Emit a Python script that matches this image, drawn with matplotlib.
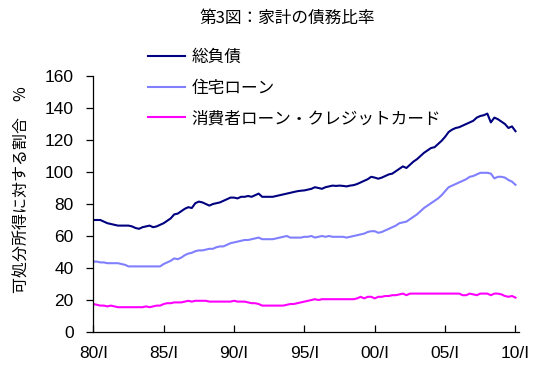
import matplotlib
matplotlib.use("Agg")
import matplotlib.pyplot as plt
from matplotlib.font_manager import FontProperties
import numpy as np

plt.rcParams['font.family'] = ['Noto Sans CJK JP', 'DejaVu Sans']

title = "第3図：家計の債務比率"
ylabel = "可処分所得に対する割合　%"
labels = ["総負債", "住宅ローン", "消費者ローン・クレジットカード"]
xtick_labels = ["80/I", "85/I", "90/I", "95/I", "00/I", "05/I", "10/I"]
yticks = [0, 20, 40, 60, 80, 100, 120, 140, 160]

# quarterly values, 1980Q1 .. 2010Q1
total_debt = [
    70, 70, 70, 69, 68,
    67.5, 67, 66.5, 66.5, 66.5,
    66.5, 66, 65, 64.5, 65.5,
    66, 66.5, 65.5, 66, 67,
    68, 69.5, 71, 73.5, 74,
    75.5, 77, 78, 77.5, 80.5,
    81.5, 81, 80, 79, 80,
    80.5, 81, 82, 83, 84,
    84, 83.5, 84.5, 84.5, 85,
    84.5, 85.5, 86.5, 84.5, 84.5,
    84.5, 84.5, 85, 85.5, 86,
    86.5, 87, 87.5, 88, 88.3,
    88.5, 89, 89.5, 90.5, 90,
    89.5, 90.5, 91, 91.5, 91.3,
    91.5, 91.3, 91, 91.5, 91.8,
    92.5, 93.5, 94.5, 95.5, 97,
    96.5, 95.8, 96.5, 97.5, 98.5,
    99, 100.5, 102, 103.5, 102.5,
    104.5, 106.5, 108, 110, 112,
    113.5, 115, 115.5, 117.5, 119.5,
    122, 125, 126.5, 127.5, 128,
    129, 130, 131, 132, 134,
    135, 135.5, 136.5, 131, 134,
    133, 131.5, 130, 127.5, 128.5,
    125.5,
]
mortgage = [
    44, 44, 43.5, 43.5, 43,
    43, 43, 43, 42.5, 42,
    41, 41, 41, 41, 41,
    41, 41, 41, 41, 41,
    42.5, 43.5, 44.5, 46, 45.5,
    46.5, 48, 49, 49.5, 50.5,
    51, 51, 51.5, 52, 52,
    53, 53.5, 53.5, 54.5, 55.5,
    56, 56.5, 57, 57.5, 57.5,
    58, 58.5, 59, 58, 58,
    58, 58, 58.5, 59, 59.5,
    60, 59, 59, 59, 59,
    59.5, 59.5, 60, 59, 59.5,
    60, 59.5, 60, 59.5, 59.5,
    59.5, 59.5, 59, 59.5, 60,
    60.5, 61, 61.5, 62.5, 63,
    63, 62, 62.5, 63.5, 64.5,
    65.5, 66.5, 68, 68.5, 69,
    70.5, 72, 73.5, 75.5, 77.5,
    79, 80.5, 82, 83.5, 85.5,
    88, 90.5, 91.5, 92.5, 93.5,
    94.5, 95.5, 97, 97.5, 98.5,
    99.5, 99.5, 99.5, 99, 96,
    97, 97, 96.5, 95, 94,
    92,
]
consumer = [
    17.5, 17, 16.5, 16.5, 16,
    16.5, 16, 15.5, 15.5, 15.5,
    15.5, 15.5, 15.5, 15.5, 15.5,
    16, 15.5, 16, 16.5, 16.5,
    17.5, 18, 18, 18.5, 18.5,
    18.5, 19, 19.5, 19, 19.5,
    19.5, 19.5, 19.5, 19, 19,
    19, 19, 19, 19, 19,
    19.5, 19, 19, 19, 18.5,
    18, 18, 17.5, 16.5, 16.5,
    16.5, 16.5, 16.5, 16.5, 16.5,
    17, 17.5, 17.5, 18, 18.5,
    19, 19.5, 20, 20.5, 20,
    20.5, 20.5, 20.5, 20.5, 20.5,
    20.5, 20.5, 20.5, 20.5, 20.5,
    21, 22, 21, 22, 22,
    21, 22, 22, 22.5, 22.5,
    23, 23, 23.5, 24, 23,
    24, 24, 24, 24, 24,
    24, 24, 24, 24, 24,
    24, 24, 24, 24, 24,
    23, 23, 24, 23.5, 23,
    24, 24, 24, 23, 24,
    24, 23.5, 22.5, 22, 22.5,
    21.5,
]

colors = ["#000080", "#8080FF", "#FF00FF"]

fig = plt.figure(figsize=(5.4, 3.71), dpi=100)
ax = fig.add_axes([93.3 / 540, 39 / 371, (519 - 93.3) / 540, 256 / 371])

q = np.arange(len(total_debt))
for series, lab, col in zip([total_debt, mortgage, consumer], labels, colors):
    ax.plot(q, series, color=col, lw=1.5, label=lab)

ax.set_xlim(0, 121)
ax.set_ylim(0, 160)
ax.set_yticks(yticks)
ax.set_xticks(np.arange(len(xtick_labels)) * 20)
ax.set_xticklabels(xtick_labels)
for s in ["top", "right"]:
    ax.spines[s].set_visible(False)
for s in ["left", "bottom"]:
    ax.spines[s].set_linewidth(0.9)
ax.tick_params(axis='y', direction='out', length=5, width=0.9, pad=9)
ax.tick_params(axis='x', direction='in', length=5, width=0.9, pad=10)
tick_fp = FontProperties(family='Liberation Sans', stretch='normal', size=12.5)
for t in ax.get_xticklabels() + ax.get_yticklabels():
    t.set_fontproperties(tick_fp)

leg = ax.legend(loc='upper left', bbox_to_anchor=(148 / 540, 1 - 49 / 371),
                bbox_transform=fig.transFigure, frameon=False,
                fontsize=12, handlelength=2.2, handletextpad=0.4,
                labelspacing=0.82, borderpad=0, borderaxespad=0)

fig.text(287 / 540, 1 - 18 / 371, title, ha='center', va='center', fontsize=12)
fig.text(22 / 540, 1 - 190 / 371, ylabel, ha='center', va='center',
         rotation=90, fontsize=11.5)

fig.savefig("out.png", dpi=100)
